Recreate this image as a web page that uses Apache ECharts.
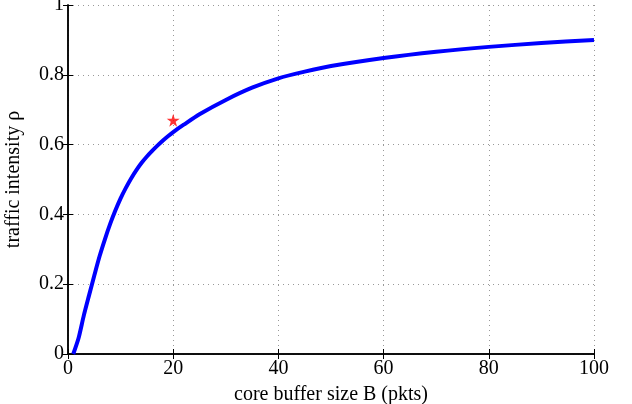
<!DOCTYPE html>
<html style="height: 100%">
<head>
<meta charset="utf-8">
<script src="https://cdn.jsdelivr.net/npm/echarts@6/dist/echarts.min.js"></script>
</head>
<body style="height: 100%; margin: 0; background: #fff">
<div id="target" style="width: 632px; height: 404px"></div>
<script>
// curve values
const bufferSize = [1, 2, 3, 4, 5, 6, 7, 8, 9, 10, 11, 12, 13, 14, 15, 16, 17, 18, 19, 20, 22, 25, 30, 35, 40, 45, 50, 60, 70, 80, 90, 100];
const intensity = [0, 0.045, 0.11, 0.168, 0.225, 0.28, 0.328, 0.372, 0.411, 0.446, 0.476, 0.503, 0.527, 0.548, 0.566, 0.582, 0.597, 0.611, 0.624, 0.636, 0.657, 0.687, 0.728, 0.763, 0.79, 0.809, 0.825, 0.848, 0.866, 0.88, 0.891, 0.9];
const starPoint = [20, 0.67];
const xTicks = [0, 20, 40, 60, 80, 100];
const yTicks = [0, 0.2, 0.4, 0.6, 0.8, 1];

const font = "Liberation Serif";
const chart = echarts.init(document.getElementById('target'));

const gridLine = {
    show: true,
    lineStyle: { color: "#999", type: [1, 4], width: 1 },
};

const mirror = (pos, min, max, interval) => ({
    type: "value",
    position: pos,
    min: min, max: max, interval: interval,
    axisLine: { show: true, lineStyle: { color: "#000", width: 1.5 } },
    axisTick: { show: true, inside: true, length: 5, lineStyle: { color: "#000" } },
    axisLabel: { show: false },
    splitLine: { show: false },
});

const option = {
    animation: false,
    grid: { left: 68, right: 38, top: 5, bottom: 50, containLabel: false, outerBoundsMode: "none" },
    xAxis: [
        {
            type: "value",
            min: 0, max: 100, interval: 20,
            name: "core buffer size B (pkts)",
            nameLocation: "middle",
            nameGap: 31,
            nameTextStyle: { fontFamily: font, fontSize: 20, color: "#000" },
            axisLine: { show: true, lineStyle: { color: "#000", width: 1.5 } },
            axisTick: { show: true, inside: true, length: 5, lineStyle: { color: "#000" } },
            axisLabel: {
                fontFamily: font, fontSize: 20, color: "#000", margin: 5,
                formatter: v => xTicks.includes(v) ? String(v) : "",
            },
            splitLine: gridLine,
        },
        mirror("top", 0, 100, 20),
    ],
    yAxis: [
        {
            type: "value",
            min: 0, max: 1, interval: 0.2,
            name: "traffic intensity ρ",
            nameLocation: "middle",
            nameGap: 44,
            nameTextStyle: { fontFamily: font, fontSize: 20, color: "#000" },
            axisLine: { show: true, lineStyle: { color: "#000", width: 1.5 } },
            axisTick: { show: true, inside: true, length: 5, lineStyle: { color: "#000" } },
            axisLabel: {
                fontFamily: font, fontSize: 20, color: "#000", margin: 4,
                formatter: v => {
                    const t = yTicks.find(y => Math.abs(y - v) < 1e-9);
                    return t === undefined ? "" : String(t);
                },
            },
            splitLine: gridLine,
        },
        mirror("right", 0, 1, 0.2),
    ],
    series: [
        {
            type: "line",
            data: bufferSize.map((b, i) => [b, intensity[i]]),
            smooth: 0.25,
            symbol: "none",
            lineStyle: { color: "#0000ff", width: 4 },
            z: 3,
        },
        {
            type: "scatter",
            data: [starPoint],
            symbol: "path://M50,0 L61,35 L98,35 L68,57 L79,91 L50,70 L21,91 L32,57 L2,35 L39,35 Z",
            symbolSize: 13,
            itemStyle: { color: "#ff0000" },
            z: 4,
        },
    ],
};

chart.setOption(option);
</script>
</body>
</html>
